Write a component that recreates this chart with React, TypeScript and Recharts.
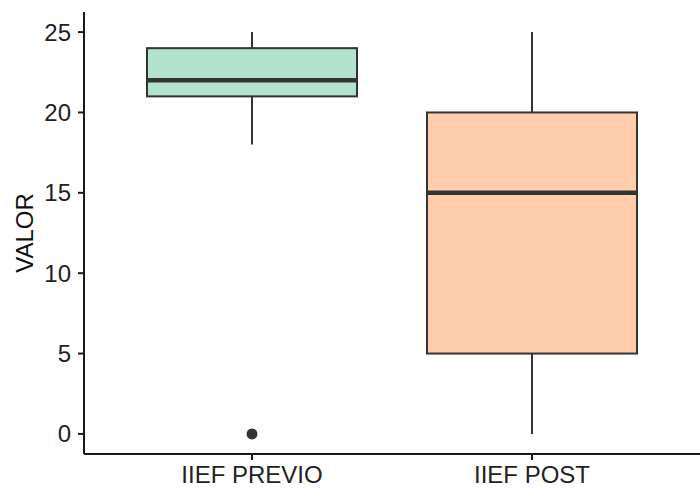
import React from 'react';
import { ComposedChart, Bar, Scatter, XAxis, YAxis, Label } from 'recharts';

// datos
const categories = ['IIEF PREVIO', 'IIEF POST'];
const whiskerLow = [18, 0];
const q1 = [21, 5];
const median = [22, 15];
const q3 = [24, 20];
const whiskerHigh = [25, 25];
const outliers: (number | null)[] = [0, null];
const boxFills = ['#B3E2CD', '#FDCDAC'];
const yTicks = [0, 5, 10, 15, 20, 25];

const data = categories.map((cat, i) => ({
  cat,
  range: [whiskerLow[i], whiskerHigh[i]],
  lo: whiskerLow[i],
  q1: q1[i],
  med: median[i],
  q3: q3[i],
  hi: whiskerHigh[i],
  outlier: outliers[i],
  fill: boxFills[i],
}));

const INK = '#333333';
const AXIS = '#1a1a1a';
const FONT = '"Liberation Sans", Arial, sans-serif';

// caja + bigotes, escala tomada del rango de la barra
const BoxShape = (props: any) => {
  const { x, y, width, height, payload } = props;
  if (!payload || height == null) return <g />;
  const top = height >= 0 ? y : y + height;
  const h = Math.abs(height);
  const unit = h / (payload.hi - payload.lo);
  const py = (v: number) => top + (payload.hi - v) * unit;
  const cx = x + width / 2;
  return (
    <g>
      <line x1={cx} x2={cx} y1={py(payload.hi)} y2={py(payload.q3)} stroke={INK} strokeWidth={2} />
      <line x1={cx} x2={cx} y1={py(payload.q1)} y2={py(payload.lo)} stroke={INK} strokeWidth={2} />
      <rect
        x={x}
        y={py(payload.q3)}
        width={width}
        height={py(payload.q1) - py(payload.q3)}
        fill={payload.fill}
        stroke={INK}
        strokeWidth={2}
      />
      <line x1={x} x2={x + width} y1={py(payload.med)} y2={py(payload.med)} stroke={INK} strokeWidth={4.5} />
    </g>
  );
};

const OutlierDot = (props: any) => {
  const { cx, cy, payload } = props;
  if (!payload || payload.outlier == null || !isFinite(cx) || !isFinite(cy)) return <g />;
  return <circle cx={cx} cy={cy} r={5.5} fill={INK} />;
};

export default function App() {
  return (
    <div style={{ position: 'absolute', left: 0, top: 0, background: '#fff' }}>
      <ComposedChart
        width={700}
        height={489}
        data={data}
        margin={{ top: 12, right: 0, bottom: 0, left: 0 }}
        style={{ fontFamily: FONT }}
      >
        <XAxis
          dataKey="cat"
          type="category"
          height={35}
          padding={{ left: 28, right: 28 }}
          axisLine={{ stroke: AXIS, strokeWidth: 2 }}
          tickLine={{ stroke: AXIS, strokeWidth: 2 }}
          tickSize={6}
          tickMargin={6}
          tick={{ fill: '#222', fontSize: 24, fontFamily: FONT }}
        />
        <YAxis
          type="number"
          domain={[-1.25, 26.25]}
          ticks={yTicks}
          width={84}
          allowDataOverflow
          axisLine={{ stroke: AXIS, strokeWidth: 2 }}
          tickLine={{ stroke: AXIS, strokeWidth: 2 }}
          tickSize={6}
          tickMargin={7}
          tick={{ fill: '#222', fontSize: 24, fontFamily: FONT }}
        >
          <Label
            content={({ viewBox }: any) => {
              const cy = viewBox.y + viewBox.height / 2;
              return (
                <text
                  x={24}
                  y={cy}
                  transform={`rotate(-90 24 ${cy})`}
                  textAnchor="middle"
                  dominantBaseline="central"
                  fill="#111"
                  fontSize={24}
                  fontFamily={FONT}
                >
                  VALOR
                </text>
              );
            }}
          />
        </YAxis>
        <Bar dataKey="range" barSize={210} shape={<BoxShape />} isAnimationActive={false} />
        <Scatter dataKey="outlier" shape={<OutlierDot />} isAnimationActive={false} />
      </ComposedChart>
    </div>
  );
}
